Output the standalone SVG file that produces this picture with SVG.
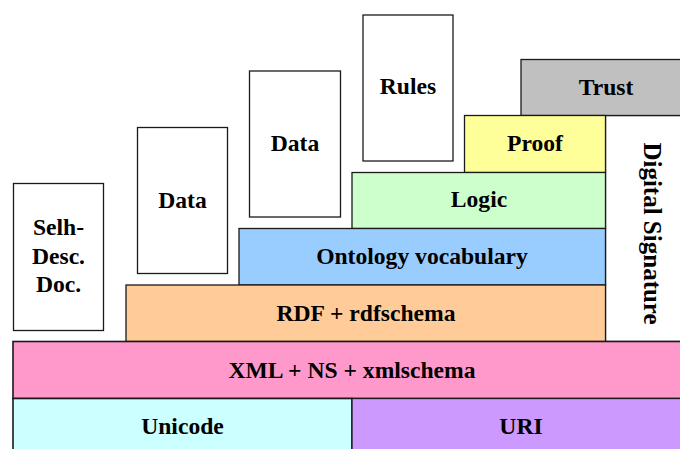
<svg xmlns="http://www.w3.org/2000/svg" width="680" height="449" viewBox="0 0 680 449">
  <style>
    .box { stroke: #1a1a1a; stroke-width: 1.3; }
    .lbl { font-family: "Liberation Serif", "Times New Roman", serif; font-weight: bold; font-size: 23.6px; fill: #000; text-anchor: middle; }
  </style>
  <rect width="680" height="449" fill="#ffffff"/>

  <!-- side documents -->
  <g id="selfdesc">
    <rect class="box" x="13.5" y="183.5" width="90" height="147" fill="#ffffff"/>
    <text class="lbl" x="58.5" y="235">Selh-</text>
    <text class="lbl" x="58.5" y="264">Desc.</text>
    <text class="lbl" x="58.5" y="292">Doc.</text>
  </g>
  <g id="data1">
    <rect class="box" x="137.5" y="127.5" width="90" height="146" fill="#ffffff"/>
    <text class="lbl" x="182.5" y="207.5">Data</text>
  </g>
  <g id="data2">
    <rect class="box" x="249.5" y="71" width="91" height="146" fill="#ffffff"/>
    <text class="lbl" x="295" y="151">Data</text>
  </g>
  <g id="rules">
    <rect class="box" x="363" y="15" width="90" height="146" fill="#ffffff"/>
    <text class="lbl" x="408" y="94">Rules</text>
  </g>

  <!-- stack layers -->
  <g id="signature">
    <rect class="box" x="605.5" y="115.5" width="86" height="226" fill="#ffffff"/>
    <text class="lbl" transform="translate(643.5,233.5) rotate(90)" x="0" y="0" style="font-size:25px">Digital Signature</text>
  </g>
  <g id="trust">
    <rect class="box" x="521" y="59.5" width="170" height="56" fill="#c0c0c0"/>
    <text class="lbl" x="606" y="94.5">Trust</text>
  </g>
  <g id="proof">
    <rect class="box" x="464.5" y="115.5" width="141" height="57" fill="#ffff99"/>
    <text class="lbl" x="535" y="151">Proof</text>
  </g>
  <g id="logic">
    <rect class="box" x="352" y="172.5" width="253.5" height="56" fill="#ccffcc"/>
    <text class="lbl" x="479" y="207">Logic</text>
  </g>
  <g id="ontology">
    <rect class="box" x="239" y="228.5" width="366.5" height="56.5" fill="#99ccff"/>
    <text class="lbl" x="422" y="264">Ontology vocabulary</text>
  </g>
  <g id="rdf">
    <rect class="box" x="126" y="285" width="479.5" height="56.5" fill="#ffcc99"/>
    <text class="lbl" x="366" y="320.5">RDF + rdfschema</text>
  </g>
  <g id="xml">
    <rect class="box" x="13" y="341.5" width="678" height="57" fill="#ff99cc" style="stroke-width:1.6"/>
    <text class="lbl" x="352" y="377.5">XML + NS + xmlschema</text>
  </g>
  <g id="unicode">
    <rect class="box" x="13" y="398.5" width="339" height="60" fill="#ccffff" style="stroke-width:1.6"/>
    <text class="lbl" x="182.5" y="434">Unicode</text>
  </g>
  <g id="uri">
    <rect class="box" x="352" y="398.5" width="339" height="60" fill="#cc99ff"/>
    <text class="lbl" x="521" y="434">URI</text>
  </g>

  <g id="connectors"></g>
</svg>
